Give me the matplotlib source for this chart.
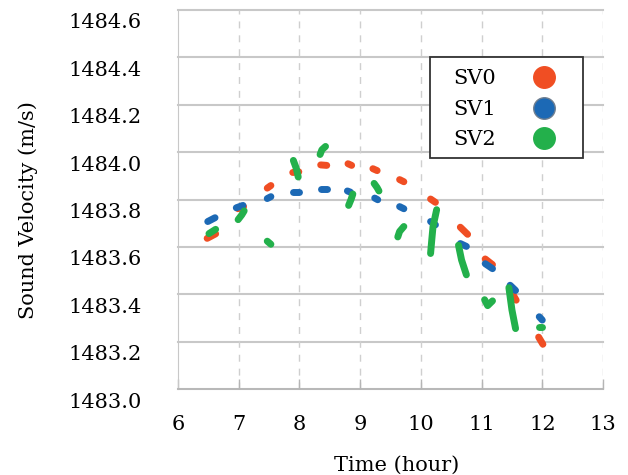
import matplotlib
matplotlib.use("Agg")
import matplotlib.pyplot as plt
from matplotlib.lines import Line2D
from matplotlib.patches import Rectangle
from matplotlib.transforms import ScaledTranslation

# ---- data: each series is a list of short measurement segments (time [h], velocity [m/s])
sv0_segments = [
    [(6.48, 1483.636), (6.62, 1483.655)],
    [(6.99, 1483.761), (7.08, 1483.770)],
    [(7.47, 1483.848), (7.53, 1483.859)],
    [(7.89, 1483.914), (7.99, 1483.917)],
    [(8.35, 1483.946), (8.45, 1483.944)],
    [(8.80, 1483.951), (8.86, 1483.944)],
    [(9.21, 1483.930), (9.28, 1483.922)],
    [(9.65, 1483.884), (9.72, 1483.875)],
    [(10.16, 1483.802), (10.24, 1483.788)],
    [(10.65, 1483.683), (10.77, 1483.653)],
    [(11.06, 1483.549), (11.18, 1483.525)],
    [(11.49, 1483.410), (11.57, 1483.375)],
    [(11.94, 1483.219), (12.01, 1483.189)],
]
sv1_segments = [
    [(6.49, 1483.707), (6.61, 1483.723)],
    [(6.96, 1483.765), (7.07, 1483.775)],
    [(7.47, 1483.804), (7.53, 1483.812)],
    [(7.89, 1483.833), (7.99, 1483.833)],
    [(8.35, 1483.846), (8.45, 1483.846)],
    [(8.79, 1483.836), (8.84, 1483.831)],
    [(9.24, 1483.806), (9.29, 1483.799)],
    [(9.65, 1483.770), (9.72, 1483.761)],
    [(10.16, 1483.707), (10.24, 1483.693)],
    [(10.65, 1483.614), (10.75, 1483.602)],
    [(11.06, 1483.529), (11.18, 1483.508)],
    [(11.47, 1483.438), (11.56, 1483.416)],
    [(11.95, 1483.305), (12.00, 1483.291)],
]
sv2_segments = [
    [(6.51, 1483.656), (6.62, 1483.674)],
    [(6.99, 1483.715), (7.05, 1483.735), (7.09, 1483.752)],
    [(7.47, 1483.624), (7.53, 1483.611)],
    [(7.90, 1483.965), (7.95, 1483.930), (7.98, 1483.895)],
    [(8.34, 1483.990), (8.37, 1484.010), (8.43, 1484.024)],
    [(8.81, 1483.775), (8.85, 1483.800), (8.88, 1483.823)],
    [(9.23, 1483.868), (9.28, 1483.850), (9.31, 1483.836)],
    [(9.62, 1483.642), (9.65, 1483.665), (9.72, 1483.686)],
    [(10.16, 1483.572), (10.18, 1483.630), (10.20, 1483.685), (10.26, 1483.757)],
    [(10.62, 1483.607), (10.67, 1483.545), (10.75, 1483.482)],
    [(11.05, 1483.377), (11.10, 1483.352), (11.18, 1483.372)],
    [(11.45, 1483.428), (11.50, 1483.334), (11.56, 1483.255)],
    [(11.95, 1483.262), (12.00, 1483.262)],
]
series_names = ["SV0", "SV1", "SV2"]
series_colors = ["#F04E23", "#1C69B5", "#23B04B"]
x_ticks = [6, 7, 8, 9, 10, 11, 12, 13]
y_ticks = [1483.0, 1483.2, 1483.4, 1483.6, 1483.8, 1484.0, 1484.2, 1484.4, 1484.6]

plt.rcParams['font.family'] = ['DejaVu Serif']
fig = plt.figure(figsize=(6.28, 4.75), dpi=100)
ax = fig.add_axes([178/628, 1 - 389/475, 425/628, 379/475])

for segs, col in zip([sv0_segments, sv1_segments, sv2_segments], series_colors):
    for seg in segs:
        xs = [p[0] for p in seg]
        ys = [p[1] for p in seg]
        ax.plot(xs, ys, color=col, lw=5.0, solid_capstyle='round',
                solid_joinstyle='round', zorder=3)

ax.set_xlim(6, 13)
ax.set_ylim(1483.0, 1484.6)
ax.set_xticks(x_ticks)
ax.set_yticks(y_ticks)
ax.set_xticklabels([str(t) for t in x_ticks])
ax.set_yticklabels([f"{t:.1f}" for t in y_ticks])

# grid
for t in y_ticks:
    ax.axhline(t, color="#c8c8c8", lw=1.5, zorder=1, clip_on=False)
for t in x_ticks[1:]:
    ax.axvline(t, color="#cfcfcf", lw=1.0, ls=(0, (5, 5)), zorder=1)

for s in ["top", "right"]:
    ax.spines[s].set_visible(False)
ax.spines["left"].set_color("#c8c8c8")
ax.spines["bottom"].set_color("#b5b5b5")
ax.spines["bottom"].set_linewidth(1.2)

ax.tick_params(axis='x', direction='in', length=7, width=1.0, color="#b5b5b5",
               labelsize=15, pad=19)
ax.tick_params(axis='y', length=0, labelsize=15, pad=26)
off = ScaledTranslation(0, -11/100, fig.dpi_scale_trans)
for lab in ax.get_yticklabels():
    lab.set_transform(lab.get_transform() + off)

ax.set_xlabel("Time (hour)", fontsize=15)
ax.xaxis.set_label_coords(0.515, -0.175)
ax.xaxis.label.set_va('top')
ax.set_ylabel("Sound Velocity (m/s)", fontsize=15)
ax.yaxis.set_label_coords(-0.33, 0.472)

# legend: frame drawn as a rectangle, entries via legend without frame
ax.add_patch(Rectangle((0.593, 0.6095), 0.36, 0.2665, transform=ax.transAxes,
                       facecolor='white', edgecolor='#333333', lw=1.3, zorder=4,
                       clip_on=False))
edge_cols = [series_colors[0], "#6f7f90", series_colors[2]]
handles = [Line2D([], [], ls='none', marker='o', markersize=15.5, color=c,
                  markeredgecolor=e, markeredgewidth=1.0)
           for c, e in zip(series_colors, edge_cols)]
leg = ax.legend(handles, series_names, loc='center left', bbox_to_anchor=(0.647, 0.738),
                markerfirst=False, fontsize=15, frameon=False, handletextpad=1.8,
                labelspacing=0.56, borderpad=0, borderaxespad=0, handlelength=1.0)
leg.set_zorder(5)

fig.savefig("out.png", dpi=100)
